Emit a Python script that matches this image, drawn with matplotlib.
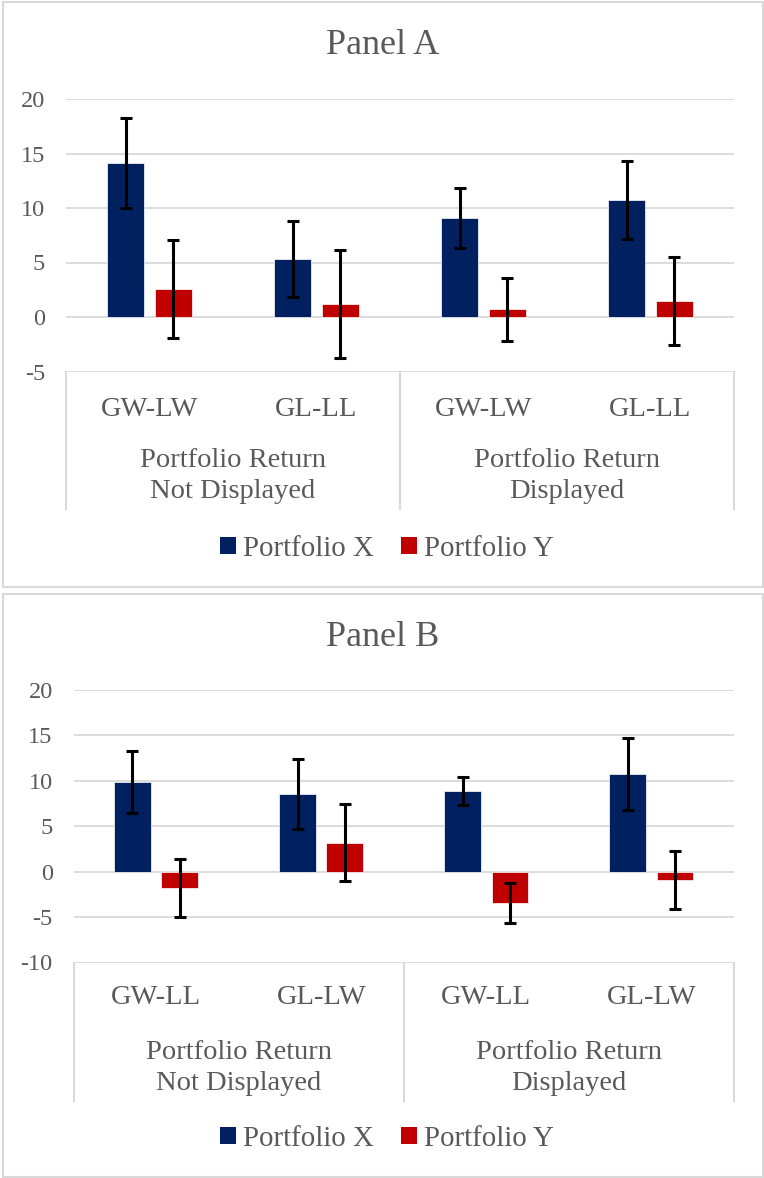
import matplotlib
matplotlib.use("Agg")
import matplotlib.pyplot as plt
from matplotlib.patches import Rectangle, Patch
from matplotlib.lines import Line2D
import matplotlib.transforms as mtransforms
import numpy as np

# ---- data ----
subgroups_a = ["GW-LW", "GL-LL", "GW-LW", "GL-LL"]
subgroups_b = ["GW-LL", "GL-LW", "GW-LL", "GL-LW"]
groups = ["Portfolio Return\nNot Displayed", "Portfolio Return\nDisplayed"]
series_names = ["Portfolio X", "Portfolio Y"]

a_x = [14.15, 5.35, 9.1, 10.7]
a_x_err = [4.15, 3.5, 2.75, 3.57]
a_y = [2.6, 1.2, 0.7, 1.5]
a_y_err = [4.5, 4.95, 2.9, 4.05]

b_x = [9.9, 8.55, 8.9, 10.8]
b_x_err = [3.4, 3.85, 1.55, 3.97]
b_y = [-1.8, 3.2, -3.45, -0.95]
b_y_err = [3.2, 4.2, 2.25, 3.18]

yticks_a = [-5, 0, 5, 10, 15, 20]
yticks_b = [-10, -5, 0, 5, 10, 15, 20]

# ---- style ----
NAVY = "#002060"
RED = "#C00000"
TXT = "#595959"
GRID = "#D9D9D9"
FONT = "Liberation Serif"

W, H = 764, 1178
fig = plt.figure(figsize=(W / 100, H / 100), dpi=100)
plt.rcParams["font.family"] = FONT


def fx(px):
    return px / W


def fy(py):
    return 1 - py / H


def panel(title, subs, xs, xerr, ys, yerr, yticks, box, plot_left, plot_top,
          plot_bottom, title_y, sub_y, grp_y, box_bottom, legend_y):
    # outer frame of the panel
    x0, y0, x1, y1 = box
    fig.patches.append(Rectangle((fx(x0), fy(y1)), fx(x1 - x0), (y1 - y0) / H,
                                 transform=fig.transFigure, fill=False,
                                 edgecolor=GRID, linewidth=1.5))
    fig.text(fx((x0 + x1) / 2), fy(title_y), title, ha="center", va="center",
             fontsize=26, color=TXT, family=FONT)

    plot_right = 734
    ax = fig.add_axes([fx(plot_left), fy(plot_bottom),
                       fx(plot_right - plot_left), (plot_bottom - plot_top) / H])
    n = len(subs)
    pos = np.arange(n)
    off = 0.143
    bw = 0.223
    ax.bar(pos - off, xs, bw, color=NAVY, edgecolor="white", linewidth=0.5, zorder=2)
    ax.bar(pos + off, ys, bw, color=RED, edgecolor="white", linewidth=0.5, zorder=2)
    ekw = dict(fmt="none", ecolor="black", elinewidth=2.2, capsize=4.3,
               capthick=2.2, zorder=3)
    ax.errorbar(pos - off, xs, yerr=xerr, **ekw)
    ax.errorbar(pos + off, ys, yerr=yerr, **ekw)

    ax.set_xlim(-0.5, n - 0.5)
    ax.set_ylim(yticks[0], yticks[-1])
    ax.set_yticks(yticks)
    ax.set_yticklabels([str(t) for t in yticks])
    ax.set_xticks([])
    ax.tick_params(axis="y", length=0, pad=15, labelsize=17.5, labelcolor=TXT)
    for lab in ax.get_yticklabels():
        lab.set_family(FONT)
    for s in ax.spines.values():
        s.set_visible(False)
    ax.yaxis.grid(True, color=GRID, linewidth=1.3, zorder=0)
    ax.set_axisbelow(True)

    # category axis box below the plot
    tr = mtransforms.blended_transform_factory(ax.transData, fig.transFigure)
    yb = fy(box_bottom)
    yt = fy(plot_bottom)
    for xv in [-0.5, (n / 2) - 0.5, n - 0.5]:
        fig.add_artist(Line2D([xv, xv], [yb, yt], transform=tr, color=GRID,
                              linewidth=1.5))
    for i, s in enumerate(subs):
        fig.text(pos[i], fy(sub_y), s, transform=tr, ha="center", va="center",
                 fontsize=20.5, color=TXT, family=FONT)
    for g, name in enumerate(groups):
        fig.text(g * 2 + 0.5, fy(grp_y), name, transform=tr, ha="center",
                 va="center", fontsize=20.5, color=TXT, family=FONT,
                 linespacing=1.34)

    handles = [Patch(facecolor=NAVY, edgecolor="none"),
               Patch(facecolor=RED, edgecolor="none")]
    fig.legend(handles, series_names, loc="center",
               bbox_to_anchor=(fx(387), fy(legend_y)), ncol=2, frameon=False,
               prop={"family": FONT, "size": 20.8}, labelcolor=TXT,
               handlelength=0.55, handleheight=0.55, handletextpad=0.25,
               columnspacing=0.95, borderaxespad=0)
    return ax


panel("Panel A", subgroups_a, a_x, a_x_err, a_y, a_y_err, yticks_a,
      box=(3.5, 2, 762.5, 586.5), plot_left=66, plot_top=99, plot_bottom=371.5,
      title_y=46, sub_y=409, grp_y=476, box_bottom=509, legend_y=549)

panel("Panel B", subgroups_b, b_x, b_x_err, b_y, b_y_err, yticks_b,
      box=(3.5, 593.5, 762.5, 1176.5), plot_left=73.5, plot_top=690,
      plot_bottom=962.5, title_y=637, sub_y=998, grp_y=1068,
      box_bottom=1101, legend_y=1139)

fig.savefig("out.png", dpi=100)
